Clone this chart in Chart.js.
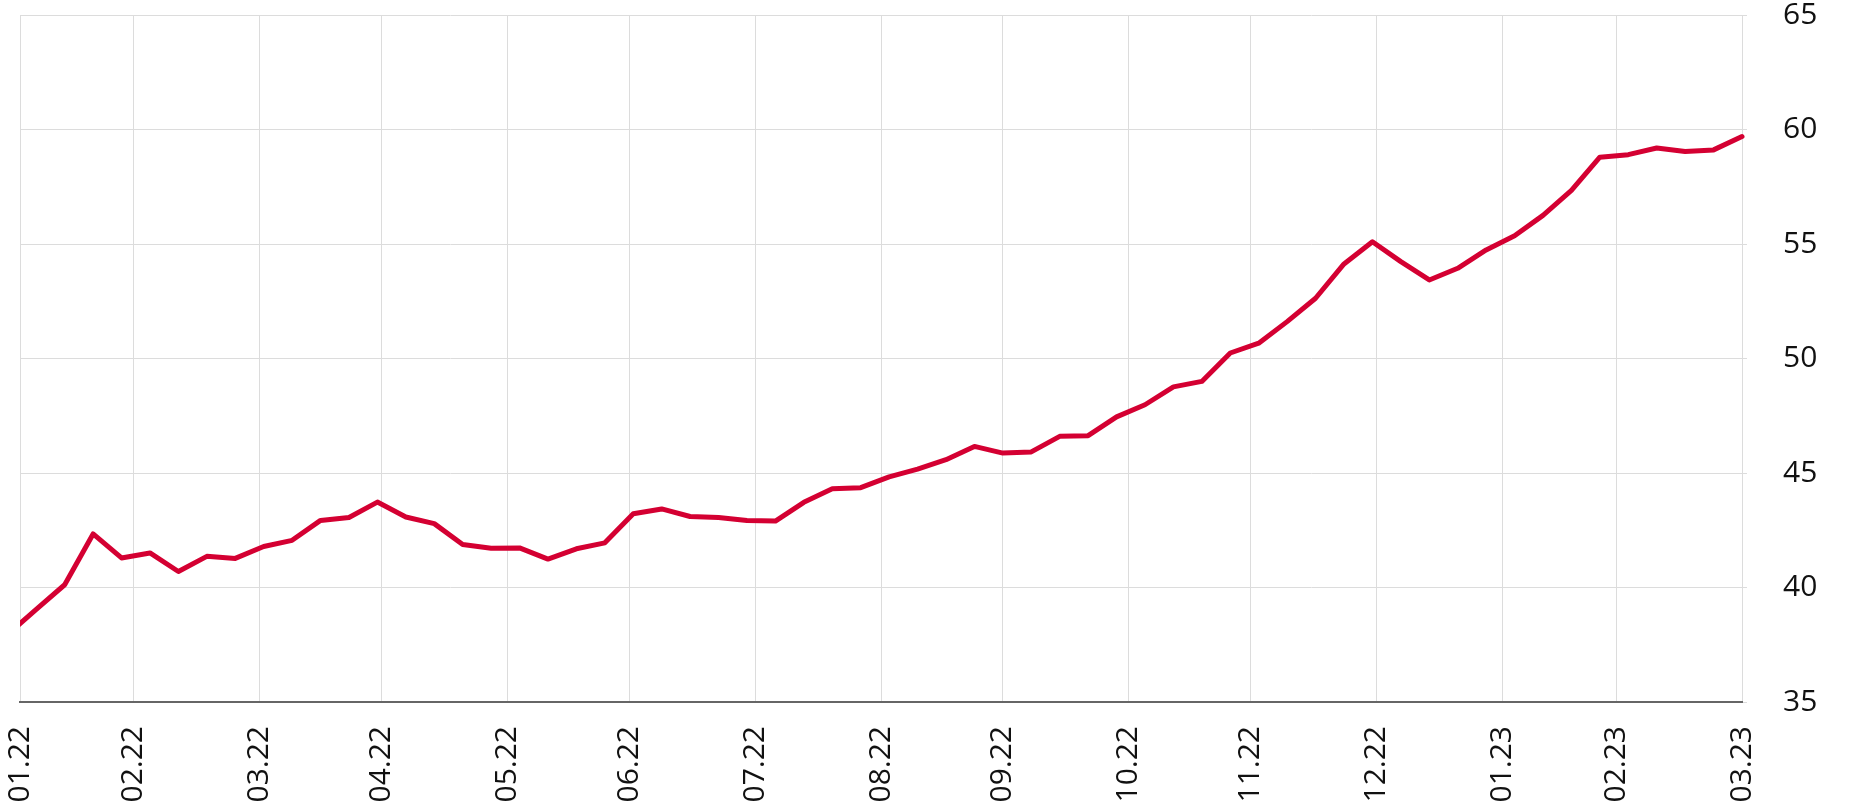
<!DOCTYPE html>
<html>
<head>
<meta charset="utf-8">
<script src="https://cdn.jsdelivr.net/npm/chart.js@4.4.1/dist/chart.umd.min.js"></script>
<style>
html,body{margin:0;padding:0;background:#fff;}
#c{display:block;}
</style>
</head>
<body>
<canvas id="c" width="1861" height="812"></canvas>
<script>
// Weekly observation dates (Fridays)
const dates = [
  "2022-01-28","2022-02-04","2022-02-11","2022-02-18","2022-02-25",
  "2022-03-04","2022-03-11","2022-03-18","2022-03-25",
  "2022-04-01","2022-04-08","2022-04-15","2022-04-22","2022-04-29",
  "2022-05-06","2022-05-13","2022-05-20","2022-05-27",
  "2022-06-03","2022-06-10","2022-06-17","2022-06-24",
  "2022-07-01","2022-07-08","2022-07-15","2022-07-22","2022-07-29",
  "2022-08-05","2022-08-12","2022-08-19","2022-08-26",
  "2022-09-02","2022-09-09","2022-09-16","2022-09-23","2022-09-30",
  "2022-10-07","2022-10-14","2022-10-21","2022-10-28",
  "2022-11-04","2022-11-11","2022-11-18","2022-11-25",
  "2022-12-02","2022-12-09","2022-12-16","2022-12-23","2022-12-30",
  "2023-01-06","2023-01-13","2023-01-20","2023-01-27",
  "2023-02-03","2023-02-10","2023-02-17","2023-02-24",
  "2023-03-03","2023-03-10","2023-03-17","2023-03-24","2023-03-31"
];
// Series values
const values = [
  37.95, 39.05, 40.12, 42.34, 41.29,
  41.51, 40.70, 41.36, 41.27,
  41.79, 42.06, 42.93, 43.06, 43.73,
  43.08, 42.79, 41.88, 41.71,
  41.73, 41.24, 41.69, 41.95,
  43.22, 43.43, 43.10, 43.06, 42.93,
  42.90, 43.72, 44.31, 44.36,
  44.83, 45.17, 45.58, 46.16, 45.87,
  45.92, 46.60, 46.63, 47.45,
  47.98, 48.76, 49.00, 50.24,
  50.67, 51.61, 52.63, 54.13, 55.10,
  54.23, 53.43, 53.94, 54.74,
  55.36, 56.25, 57.34, 58.79,
  58.90, 59.19, 59.04, 59.11, 59.69
];
// X tick positions (month ends) and their labels
const tickDates = [
  "2022-01-31","2022-02-28","2022-03-31","2022-04-30","2022-05-31","2022-06-30",
  "2022-07-31","2022-08-31","2022-09-30","2022-10-31","2022-11-30","2022-12-31",
  "2023-01-31","2023-02-28","2023-03-31"
];
const tickLabels = [
  "01.22","02.22","03.22","04.22","05.22","06.22","07.22","08.22",
  "09.22","10.22","11.22","12.22","01.23","02.23","03.23"
];
const yMin = 35, yMax = 65, yStep = 5;

const DAY = 86400000;
const toDay = s => { const p = s.split('-').map(Number); return Date.UTC(p[0], p[1]-1, p[2]) / DAY; };
const points = dates.map((s, i) => ({ x: toDay(s), y: values[i] }));
const tickDays = tickDates.map(toDay);

const FONT = "'Open Sans', 'Noto Sans', sans-serif";

new Chart(document.getElementById('c'), {
  type: 'line',
  data: {
    datasets: [{
      data: points,
      borderColor: '#d40032',
      borderWidth: 5,
      pointRadius: 0,
      pointHoverRadius: 0,
      tension: 0,
      borderCapStyle: 'round',
      borderJoinStyle: 'round',
      clip: { left: 0, right: 6, top: 6, bottom: 0 }
    }]
  },
  options: {
    responsive: false,
    animation: false,
    devicePixelRatio: 1,
    layout: { padding: 0 },
    plugins: { legend: { display: false }, tooltip: { enabled: false } },
    scales: {
      x: {
        type: 'linear',
        min: tickDays[0],
        max: tickDays[tickDays.length - 1],
        afterBuildTicks: s => { s.ticks = tickDays.map(v => ({ value: v })); },
        afterFit: s => { s.height = 110; s.paddingLeft = 20; s.paddingRight = 0; },
        ticks: {
          autoSkip: false,
          maxRotation: 90,
          minRotation: 90,
          padding: 24,
          color: '#111',
          font: { family: FONT, size: 30, lineHeight: 1.2 },
          callback: (v, i) => tickLabels[i]
        },
        grid: { color: '#dcdcdc', lineWidth: 1, drawTicks: false },
        border: { color: '#666', width: 2 }
      },
      y: {
        position: 'right',
        min: yMin,
        max: yMax,
        afterFit: s => { s.width = 119; s.paddingTop = 15; s.paddingBottom = 15; },
        ticks: {
          stepSize: yStep,
          padding: 36,
          color: '#111',
          font: { family: FONT, size: 30, lineHeight: 1 }
        },
        grid: { color: '#dcdcdc', lineWidth: 1, drawTicks: true, tickLength: 5 },
        border: { display: false }
      }
    }
  }
});
</script>
</body>
</html>
